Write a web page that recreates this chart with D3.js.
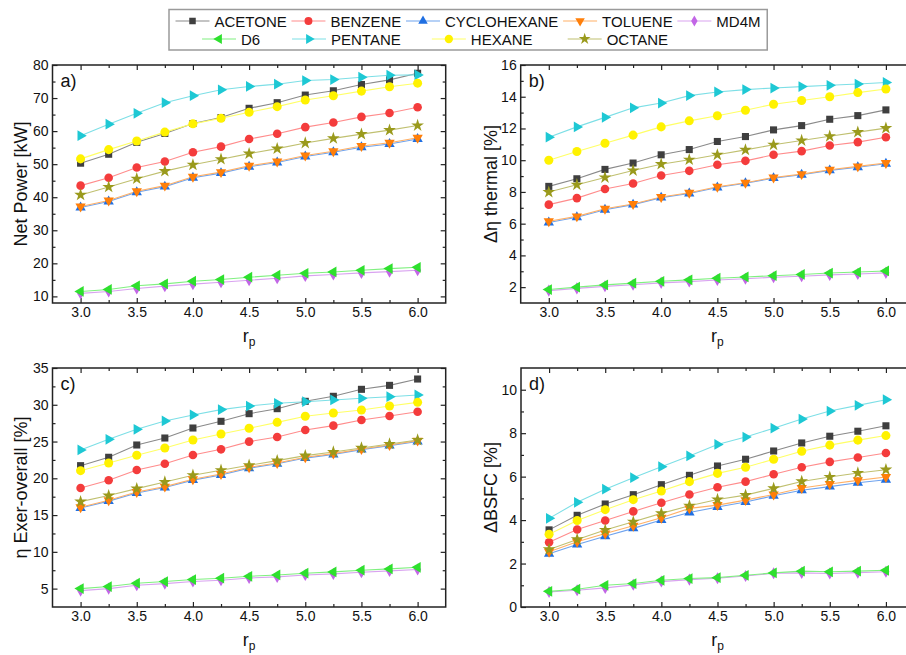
<!DOCTYPE html>
<html>
<head>
<meta charset="utf-8">
<script src="https://cdn.jsdelivr.net/npm/d3@7"></script>
<style>
  html, body { margin: 0; padding: 0; background: #fff; }
  svg { display: block; font-family: "Liberation Sans", Arial, sans-serif; }
</style>
</head>
<body>
<svg id="chart" width="906" height="655"></svg>
<script>
// ---------------- DATA ----------------
const rp = [3.0, 3.25, 3.5, 3.75, 4.0, 4.25, 4.5, 4.75, 5.0, 5.25, 5.5, 5.75, 6.0];
const seriesNames = ["ACETONE", "BENZENE", "CYCLOHEXANE", "TOLUENE", "MD4M", "D6", "PENTANE", "HEXANE", "OCTANE"];

// Net Power [kW], rows in seriesNames order
const netPower = [
  [50.3, 53.0, 56.6, 59.3, 62.3, 64.1, 66.9, 68.6, 70.9, 72.2, 74.1, 75.5, 77.5],
  [43.5, 45.9, 49.0, 50.8, 53.6, 55.3, 57.6, 59.2, 61.2, 62.6, 64.3, 65.5, 67.2],
  [36.9, 38.7, 41.5, 43.2, 45.9, 47.3, 49.2, 50.5, 52.3, 53.6, 55.1, 56.1, 57.6],
  [37.2, 39.0, 41.8, 43.5, 46.2, 47.6, 49.5, 50.8, 52.6, 53.9, 55.5, 56.5, 58.0],
  [10.9, 11.5, 12.4, 13.1, 13.7, 14.3, 14.9, 15.5, 16.2, 16.6, 17.1, 17.5, 17.9],
  [11.5, 12.1, 13.2, 13.8, 14.6, 15.1, 15.8, 16.4, 17.0, 17.4, 17.9, 18.4, 18.8],
  [58.6, 62.1, 65.4, 68.6, 70.7, 72.5, 73.5, 74.2, 75.3, 75.6, 76.3, 76.9, 77.0],
  [51.6, 54.4, 57.0, 59.7, 62.2, 63.9, 65.7, 67.4, 69.4, 70.7, 72.1, 73.4, 74.5],
  [40.7, 43.1, 45.6, 47.9, 49.8, 51.5, 53.2, 54.7, 56.4, 57.8, 59.1, 60.3, 61.7]
];

// Δη thermal [%]
const dEtaThermal = [
  [8.35, 8.83, 9.42, 9.82, 10.34, 10.67, 11.18, 11.49, 11.91, 12.18, 12.58, 12.81, 13.17],
  [7.20, 7.61, 8.18, 8.53, 9.04, 9.33, 9.71, 9.96, 10.34, 10.57, 10.93, 11.14, 11.45],
  [6.07, 6.40, 6.88, 7.20, 7.64, 7.90, 8.28, 8.55, 8.87, 9.08, 9.36, 9.56, 9.78],
  [6.15, 6.46, 6.94, 7.24, 7.68, 7.95, 8.33, 8.58, 8.91, 9.12, 9.40, 9.61, 9.82],
  [1.78, 1.92, 2.05, 2.15, 2.27, 2.35, 2.45, 2.53, 2.62, 2.69, 2.77, 2.83, 2.90],
  [1.85, 2.00, 2.14, 2.25, 2.37, 2.46, 2.56, 2.64, 2.72, 2.80, 2.89, 2.95, 3.02],
  [11.45, 12.10, 12.70, 13.30, 13.60, 14.07, 14.30, 14.45, 14.55, 14.64, 14.72, 14.80, 14.90],
  [10.00, 10.55, 11.07, 11.58, 12.10, 12.48, 12.80, 13.15, 13.53, 13.76, 14.00, 14.26, 14.49],
  [7.99, 8.45, 8.91, 9.35, 9.75, 10.03, 10.34, 10.65, 10.97, 11.24, 11.51, 11.77, 12.02]
];

// η Exer-overall [%]
const etaExergy = [
  [21.72, 22.86, 24.53, 25.48, 26.84, 27.75, 28.79, 29.47, 30.47, 31.15, 32.10, 32.64, 33.50],
  [18.69, 19.73, 21.13, 21.99, 23.17, 23.94, 24.99, 25.62, 26.57, 27.16, 27.93, 28.48, 29.06],
  [15.97, 16.90, 18.00, 18.75, 19.75, 20.45, 21.38, 21.97, 22.75, 23.25, 23.90, 24.45, 25.00],
  [16.06, 17.01, 18.14, 18.87, 19.87, 20.59, 21.50, 22.09, 22.86, 23.36, 23.99, 24.53, 25.12],
  [4.73, 5.00, 5.46, 5.68, 5.96, 6.14, 6.45, 6.59, 6.86, 7.00, 7.23, 7.41, 7.59],
  [5.00, 5.28, 5.73, 5.96, 6.23, 6.41, 6.68, 6.86, 7.09, 7.27, 7.50, 7.68, 7.90],
  [23.85, 25.30, 26.66, 27.80, 28.61, 29.34, 29.83, 30.20, 30.42, 30.65, 30.88, 31.10, 31.33],
  [21.04, 22.09, 23.13, 24.13, 25.21, 26.03, 26.80, 27.61, 28.43, 28.88, 29.29, 29.83, 30.33],
  [16.83, 17.65, 18.60, 19.50, 20.41, 21.09, 21.77, 22.40, 23.08, 23.58, 24.13, 24.67, 25.21]
];

// ΔBSFC [%]
const dBSFC = [
  [3.55, 4.22, 4.74, 5.17, 5.63, 6.06, 6.49, 6.80, 7.18, 7.55, 7.86, 8.09, 8.34],
  [2.98, 3.57, 3.98, 4.40, 4.80, 5.18, 5.51, 5.77, 6.11, 6.43, 6.68, 6.88, 7.09],
  [2.45, 2.88, 3.26, 3.62, 4.00, 4.35, 4.60, 4.83, 5.12, 5.37, 5.54, 5.72, 5.86],
  [2.54, 3.00, 3.38, 3.74, 4.11, 4.54, 4.69, 4.92, 5.18, 5.48, 5.66, 5.83, 5.98],
  [0.69, 0.77, 0.88, 1.02, 1.17, 1.26, 1.32, 1.43, 1.55, 1.57, 1.54, 1.58, 1.62],
  [0.72, 0.82, 1.00, 1.08, 1.23, 1.31, 1.35, 1.46, 1.57, 1.65, 1.62, 1.65, 1.69],
  [4.08, 4.82, 5.42, 5.95, 6.46, 6.95, 7.48, 7.82, 8.23, 8.65, 9.02, 9.28, 9.54],
  [3.35, 3.98, 4.48, 4.94, 5.34, 5.77, 6.15, 6.43, 6.80, 7.17, 7.45, 7.68, 7.89],
  [2.65, 3.11, 3.54, 3.92, 4.31, 4.66, 4.95, 5.15, 5.46, 5.78, 5.98, 6.17, 6.32]
];

const xTicks = [3.0, 3.5, 4.0, 4.5, 5.0, 5.5, 6.0];
const yTicksA = [10, 20, 30, 40, 50, 60, 70, 80];
const yTicksB = [2, 4, 6, 8, 10, 12, 14, 16];
const yTicksC = [5, 10, 15, 20, 25, 30, 35];
const yTicksD = [0, 2, 4, 6, 8, 10];

// ---------------- STYLE ----------------
const colors = ["#3f3f3f", "#f43c3c", "#1f6fe2", "#ff7f0a", "#c266e6", "#2ee02e", "#1ec8d4", "#fff200", "#9a9a1c"];
const lineColors = ["#8a8a8a", "#ff8c8c", "#6fa3ee", "#ffb066", "#d9a3f0", "#80f080", "#7ddfe6", "#ffff66", "#c0c070"];
const symbolDefs = [
  { type: d3.symbolSquare, size: 50, rot: 0 },
  { type: d3.symbolCircle, size: 58, rot: 0 },
  { type: d3.symbolTriangle, size: 46, rot: 0 },
  { type: d3.symbolTriangle, size: 46, rot: 180 },
  { type: d3.symbolDiamond, size: 42, rot: 0 },
  { type: d3.symbolTriangle, size: 50, rot: -90 },
  { type: d3.symbolTriangle, size: 50, rot: 90 },
  { type: d3.symbolCircle, size: 64, rot: 0 },
  { type: d3.symbolStar, size: 50, rot: 0 }
];

const svg = d3.select("#chart");
svg.append("rect").attr("width", 906).attr("height", 655).attr("fill", "#fff");

const panels = [
  { data: netPower, left: 52.5, right: 445.7, top: 65, bottom: 303, yDomain: [8, 80], yTicks: yTicksA, yMinorStep: 5,
    label: "a)", title: "Net Power [kW]", titleX: 26.5 },
  { data: dEtaThermal, left: 520.7, right: 914, top: 65, bottom: 303, yDomain: [1, 16], yTicks: yTicksB, yMinorStep: 1,
    label: "b)", title: "Δη thermal [%]", titleX: 496.5 },
  { data: etaExergy, left: 52.5, right: 445.7, top: 368, bottom: 607, yDomain: [2.5, 35], yTicks: yTicksC, yMinorStep: 2.5,
    label: "c)", title: "η Exer-overall [%]", titleX: 26.5 },
  { data: dBSFC, left: 521, right: 914, top: 368, bottom: 607, yDomain: [0, 11], yTicks: yTicksD, yMinorStep: 1,
    label: "d)", title: "ΔBSFC [%]", titleX: 496.5 }
];

function minorValues(domain, step, majors) {
  const out = [];
  const start = Math.ceil(domain[0] / step) * step;
  for (let v = start; v <= domain[1] + 1e-9; v += step) {
    const vv = Math.round(v * 1000) / 1000;
    if (vv <= domain[0] + 1e-9 || vv >= domain[1] - 1e-9) continue;
    if (majors.some(m => Math.abs(m - vv) < 1e-9)) continue;
    out.push(vv);
  }
  return out;
}

panels.forEach(p => {
  const x = d3.scaleLinear().domain([2.75, 6.25]).range([p.left, p.right]);
  const y = d3.scaleLinear().domain(p.yDomain).range([p.bottom, p.top]);
  const g = svg.append("g");

  const xMinor = minorValues([2.75, 6.25], 0.25, xTicks);
  const yMinor = minorValues(p.yDomain, p.yMinorStep, p.yTicks);

  const styleAxis = sel => {
    sel.select(".domain").remove();
    sel.selectAll("line").attr("stroke", "#222").attr("stroke-width", 1.2);
    sel.selectAll("text").attr("fill", "#111").style("font-size", "14px")
       .style("font-family", "'Liberation Sans', Arial, sans-serif");
  };

  // bottom axis
  g.append("g").attr("transform", `translate(0,${p.bottom})`)
    .call(d3.axisBottom(x).tickValues(xTicks).tickFormat(d3.format(".1f")).tickSizeInner(-5).tickSizeOuter(0).tickPadding(4))
    .call(styleAxis);
  g.append("g").attr("transform", `translate(0,${p.bottom})`)
    .call(d3.axisBottom(x).tickValues(xMinor).tickFormat("").tickSizeInner(-3).tickSizeOuter(0))
    .call(styleAxis);
  // top axis
  g.append("g").attr("transform", `translate(0,${p.top})`)
    .call(d3.axisTop(x).tickValues(xTicks).tickFormat("").tickSizeInner(-5).tickSizeOuter(0))
    .call(styleAxis);
  g.append("g").attr("transform", `translate(0,${p.top})`)
    .call(d3.axisTop(x).tickValues(xMinor).tickFormat("").tickSizeInner(-3).tickSizeOuter(0))
    .call(styleAxis);
  // left axis
  g.append("g").attr("transform", `translate(${p.left},0)`)
    .call(d3.axisLeft(y).tickValues(p.yTicks).tickFormat(d3.format("d")).tickSizeInner(-5).tickSizeOuter(0).tickPadding(4))
    .call(styleAxis);
  g.append("g").attr("transform", `translate(${p.left},0)`)
    .call(d3.axisLeft(y).tickValues(yMinor).tickFormat("").tickSizeInner(-3).tickSizeOuter(0))
    .call(styleAxis);
  // right axis
  g.append("g").attr("transform", `translate(${p.right},0)`)
    .call(d3.axisRight(y).tickValues(p.yTicks).tickFormat("").tickSizeInner(-5).tickSizeOuter(0))
    .call(styleAxis);
  g.append("g").attr("transform", `translate(${p.right},0)`)
    .call(d3.axisRight(y).tickValues(yMinor).tickFormat("").tickSizeInner(-3).tickSizeOuter(0))
    .call(styleAxis);

  // frame
  g.append("rect").attr("x", p.left).attr("y", p.top)
    .attr("width", p.right - p.left).attr("height", p.bottom - p.top)
    .attr("fill", "none").attr("stroke", "#222").attr("stroke-width", 1.5);

  // series
  const line = d3.line().x((d, i) => x(rp[i])).y(d => y(d));
  p.data.forEach((vals, si) => {
    g.append("path").datum(vals).attr("d", line)
      .attr("fill", "none").attr("stroke", lineColors[si]).attr("stroke-width", 1.1);
  });
  p.data.forEach((vals, si) => {
    const sd = symbolDefs[si];
    const sym = d3.symbol().type(sd.type).size(sd.size);
    g.selectAll(null).data(vals).enter().append("path")
      .attr("d", sym)
      .attr("transform", (d, i) => `translate(${x(rp[i])},${y(d)}) rotate(${sd.rot})`)
      .attr("fill", colors[si]);
  });

  // panel letter
  g.append("text").attr("x", p.left + 8).attr("y", p.top + 22)
    .style("font-size", "18px").attr("fill", "#111").text(p.label);

  // y title
  g.append("text")
    .attr("transform", `translate(${p.titleX},${(p.top + p.bottom) / 2}) rotate(-90)`)
    .attr("text-anchor", "middle").style("font-size", "18px").attr("fill", "#111")
    .text(p.title);

  // x title r_p
  const xt = g.append("text").attr("x", (p.left + Math.min(p.right, 906)) / 2 + (p.right > 906 ? 4 : 0))
    .attr("y", p.bottom + 39).attr("text-anchor", "middle").style("font-size", "18px").attr("fill", "#111");
  xt.append("tspan").text("r");
  xt.append("tspan").attr("dy", 3.5).style("font-size", "12px").text("p");
});

// ---------------- LEGEND ----------------
const legRows = [[0, 1, 2, 3, 4], [5, 6, 7, 8]];
const legRowY = [21, 39];
const legend = svg.append("g");
const measure = legend.append("text").style("font-size", "15px");
const textW = seriesNames.map(n => { measure.text(n); return measure.node().getComputedTextLength(); });
measure.remove();

const nCols = 5;
const colW = d3.range(nCols).map(c => d3.max(legRows, r => (r[c] !== undefined ? textW[r[c]] : 0)));
const lineLen = 34, gapA = 5, gapB = 4.7;
let cx = 175.5;
const colStart = [];
colW.forEach(w => { colStart.push(cx); cx += lineLen + gapA + w + gapB; });
const legRight = cx + 2;
const legLeft = 169;

legend.append("rect").attr("x", legLeft).attr("y", 9.5)
  .attr("width", legRight - legLeft).attr("height", 40.5)
  .attr("fill", "#fff").attr("stroke", "#9a9a9a").attr("stroke-width", 1.5);

legRows.forEach((row, ri) => {
  row.forEach((si, c) => {
    const center = colStart[c] + lineLen + gapA + colW[c] / 2;
    const tStart = center - textW[si] / 2;
    const lx2 = tStart - gapA, lx1 = lx2 - lineLen;
    const yy = legRowY[ri];
    legend.append("line").attr("x1", lx1).attr("x2", lx2).attr("y1", yy).attr("y2", yy)
      .attr("stroke", lineColors[si]).attr("stroke-width", 1.1);
    const sd = symbolDefs[si];
    legend.append("path").attr("d", d3.symbol().type(sd.type).size(sd.size * 0.85))
      .attr("transform", `translate(${(lx1 + lx2) / 2},${yy}) rotate(${sd.rot})`)
      .attr("fill", colors[si]);
    legend.append("text").attr("x", center).attr("y", yy + 5.5).attr("text-anchor", "middle")
      .style("font-size", "15px").attr("fill", "#111").text(seriesNames[si]);
  });
});
</script>
</body>
</html>
